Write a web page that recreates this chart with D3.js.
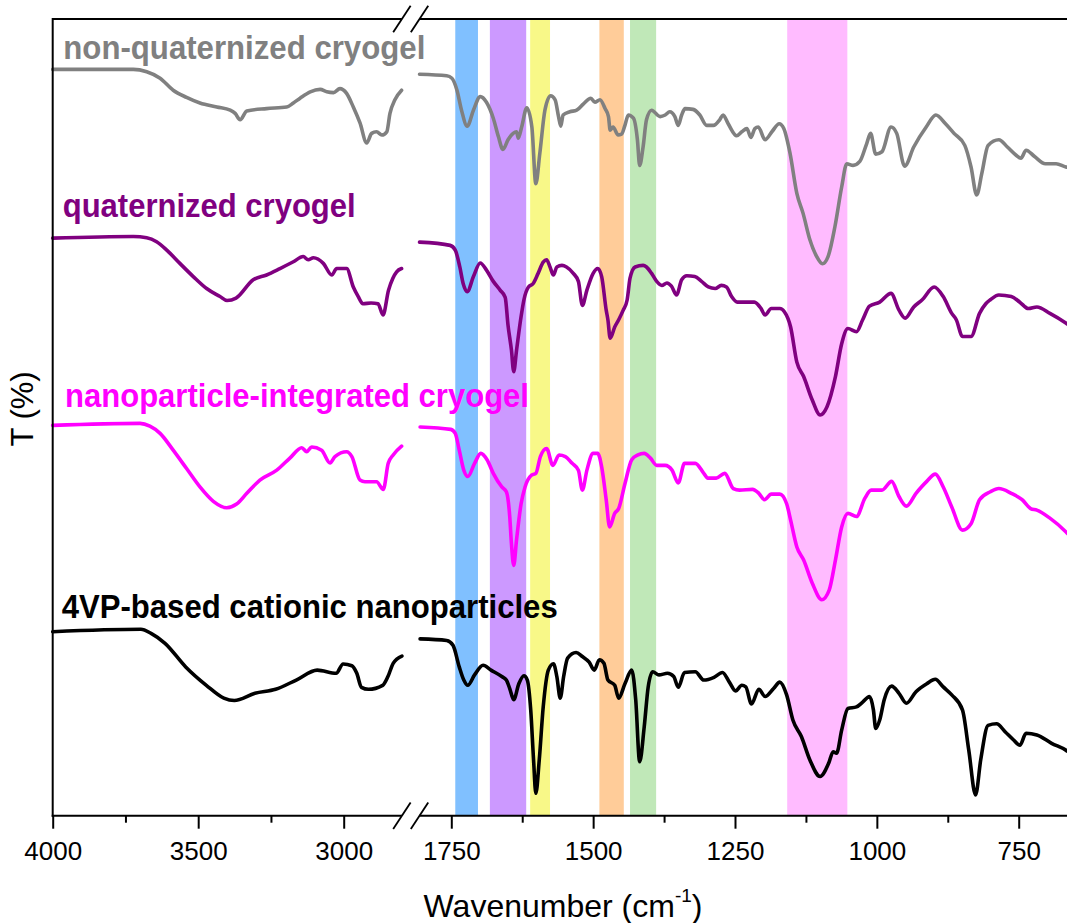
<!DOCTYPE html>
<html>
<head>
<meta charset="utf-8">
<script src="https://cdnjs.cloudflare.com/ajax/libs/d3/7.8.5/d3.min.js"></script>
<style>
  html, body { margin: 0; padding: 0; background: #fff; }
  svg { display: block; }
  text { font-family: "Liberation Sans", Arial, sans-serif; }
</style>
</head>
<body>
<svg id="chart" width="1067" height="923"></svg>
<script>
// FTIR spectra, stacked; each series split into a high (4000-2800) and low (1800-650) wavenumber window.

// --- series values: [wavenumber (cm-1), T (%)] ---
const nonQuaternizedHigh = [
  [4000,93.3],[3723,93.3],[3677,93.0],[3631,92.2],[3586,90.7],[3540,89.8],[3494,89.1],[3436,88.6],
  [3390,88.2],[3373,87.8],[3356,87.0],[3333,88.1],[3265,88.4],[3196,88.6],[3173,89.1],[3150,89.7],
  [3115,90.5],[3081,90.8],[3058,90.5],[3035,90.4],[3013,90.9],[2990,90.3],[2967,88.6],[2944,86.6],
  [2921,84.1],[2904,85.3],[2887,85.5],[2869,85.1],[2852,85.5],[2841,87.8],[2824,89.5],[2801,90.7]
];
const nonQuaternizedLow = [
  [1806,92.7],[1758,92.5],[1749,92.2],[1740,90.7],[1732,88.2],[1722,86.2],[1711,88.2],[1699,89.9],
  [1688,89.2],[1676,87.2],[1667,84.9],[1659,83.3],[1650,84.5],[1641,85.3],[1635,85.5],[1632,84.7],
  [1626,86.1],[1617,88.5],[1608,86.1],[1601,79.0],[1594,82.8],[1585,88.2],[1575,90.0],[1567,89.5],
  [1561,87.4],[1557,86.2],[1553,87.6],[1541,88.0],[1529,88.2],[1517,89.0],[1504,89.7],[1497,89.2],
  [1488,89.5],[1479,88.4],[1473,87.4],[1470,85.7],[1465,86.1],[1456,85.1],[1450,85.2],[1444,86.3],
  [1438,87.6],[1429,87.2],[1422,84.5],[1418,81.3],[1412,83.6],[1406,87.0],[1397,88.2],[1382,87.4],
  [1373,87.6],[1365,88.0],[1356,87.4],[1350,86.3],[1344,87.6],[1338,88.4],[1324,88.3],[1312,87.6],
  [1300,86.3],[1288,86.3],[1277,87.0],[1271,87.6],[1262,86.5],[1247,85.0],[1238,85.5],[1229,85.9],
  [1222,84.8],[1215,85.9],[1209,86.1],[1197,84.5],[1185,85.5],[1172,86.5],[1164,85.9],[1153,82.8],
  [1141,77.8],[1130,75.3],[1118,72.0],[1106,69.9],[1096,69.0],[1086,69.9],[1074,73.6],[1062,78.6],
  [1053,81.5],[1042,81.3],[1030,81.8],[1018,84.0],[1011,85.3],[1002,82.7],[991,83.0],[975,86.1],
  [965,85.3],[951,81.2],[935,83.6],[913,86.1],[896,87.6],[879,86.5],[864,85.3],[845,83.8],
  [834,81.1],[824,77.6],[815,80.3],[804,83.8],[785,84.5],[770,83.6],[755,82.6],[746,82.2],
  [737,83.2],[722,82.4],[703,81.5],[684,81.5],[667,81.1],[655,81.0]
];

const quaternizedHigh = [
  [4000,72.2],[3723,72.4],[3677,72.25],[3643,71.75],[3608,70.7],[3563,69.05],[3517,67.4],[3471,65.9],
  [3425,64.9],[3401,64.4],[3370,64.7],[3311,67.0],[3265,67.6],[3219,68.4],[3173,69.25],[3139,69.9],
  [3122,69.5],[3104,69.75],[3070,69.05],[3041,67.6],[3024,68.4],[2990,68.4],[2967,66.1],[2950,64.9],
  [2934,64.0],[2906,64.1],[2882,64.0],[2865,62.6],[2846,65.7],[2831,67.2],[2818,68.0],[2801,68.4]
];
const quaternizedLow = [
  [1806,71.7],[1752,71.3],[1743,70.7],[1735,68.6],[1729,66.5],[1722,65.5],[1711,67.4],[1699,69.1],
  [1688,68.2],[1676,66.8],[1664,65.7],[1655,64.8],[1650,61.3],[1644,58.2],[1640,55.5],[1635,58.2],
  [1627,62.4],[1622,64.5],[1614,66.1],[1606,66.5],[1597,67.8],[1588,69.2],[1582,69.5],[1576,68.6],
  [1570,67.6],[1564,68.6],[1555,68.8],[1547,68.6],[1535,67.8],[1526,66.8],[1519,63.8],[1511,65.7],
  [1500,67.8],[1492,68.4],[1485,67.4],[1477,63.2],[1474,62.0],[1470,59.7],[1462,61.1],[1455,62.0],
  [1447,63.2],[1440,64.5],[1435,67.2],[1426,68.6],[1412,68.8],[1406,68.6],[1397,67.8],[1388,66.8],
  [1379,66.3],[1370,66.6],[1362,66.2],[1353,65.1],[1344,67.0],[1335,67.5],[1321,67.4],[1309,66.8],
  [1297,66.1],[1285,65.9],[1274,66.3],[1265,66.1],[1256,64.9],[1246,64.2],[1227,64.2],[1216,64.2],
  [1204,63.4],[1197,62.6],[1186,63.4],[1171,63.4],[1163,63.0],[1152,61.1],[1141,56.7],[1129,54.9],
  [1114,52.0],[1100,50.1],[1088,51.1],[1073,54.9],[1062,59.0],[1051,60.9],[1036,60.5],[1025,62.0],
  [1013,63.7],[995,64.2],[975,65.3],[961,63.2],[950,62.2],[935,63.6],[920,64.5],[899,66.1],
  [883,64.9],[868,62.8],[860,62.0],[849,59.9],[834,59.9],[819,62.8],[808,64.0],[800,64.5],
  [785,65.1],[763,64.9],[748,64.2],[733,63.4],[718,63.6],[695,62.8],[667,61.6],[655,61.0]
];

const integratedHigh = [
  [4000,48.8],[3700,49.05],[3666,48.7],[3631,47.8],[3586,45.7],[3540,43.4],[3494,41.1],[3448,39.3],
  [3402,38.5],[3368,38.96],[3333,40.3],[3288,41.96],[3230,43.2],[3185,44.7],[3144,46.0],[3127,45.5],
  [3110,46.1],[3076,45.7],[3047,44.1],[3030,44.9],[2990,45.5],[2972,44.9],[2944,41.96],[2927,41.75],
  [2887,41.75],[2864,40.8],[2847,44.05],[2830,45.1],[2801,46.2]
];
const integratedLow = [
  [1805,48.6],[1751,48.3],[1743,47.8],[1736,45.7],[1728,43.2],[1721,42.4],[1709,44.05],[1698,45.3],
  [1687,44.5],[1676,42.8],[1661,41.1],[1653,40.5],[1647,37.4],[1644,34.0],[1640,31.3],[1635,34.5],
  [1627,39.0],[1620,41.1],[1608,42.6],[1601,42.8],[1593,44.9],[1582,45.9],[1571,43.8],[1560,45.1],
  [1549,44.9],[1537,44.05],[1526,43.2],[1519,40.7],[1511,43.2],[1500,45.3],[1492,45.3],[1485,43.6],
  [1477,39.5],[1471,36.1],[1462,37.8],[1455,38.4],[1444,41.5],[1432,44.5],[1421,45.1],[1410,45.3],
  [1399,44.7],[1388,43.8],[1373,43.8],[1361,43.2],[1350,41.6],[1339,44.05],[1320,44.05],[1305,42.8],
  [1298,42.2],[1283,42.2],[1268,42.8],[1253,40.9],[1242,40.7],[1219,40.8],[1208,40.3],[1198,39.5],
  [1186,40.2],[1171,40.2],[1159,39.0],[1152,36.96],[1141,33.6],[1129,31.96],[1114,29.1],[1097,27.0],
  [1084,28.2],[1073,31.96],[1062,36.1],[1051,37.8],[1036,37.4],[1021,39.7],[1010,40.7],[991,40.7],
  [974,41.8],[961,39.9],[948,38.7],[931,40.3],[912,41.8],[897,42.7],[883,41.1],[868,38.6],
  [849,35.7],[834,36.5],[819,39.5],[800,40.5],[785,40.9],[763,40.3],[744,39.5],[729,38.4],
  [718,38.2],[695,37.2],[667,35.5],[655,34.6]
];

const nanoparticleHigh = [
  [4000,23.0],[3697,23.3],[3662,22.8],[3614,21.55],[3543,18.6],[3472,16.3],[3412,14.7],[3376,14.4],
  [3305,15.3],[3234,15.8],[3163,16.96],[3091,18.2],[3026,17.8],[3002,18.96],[2972,18.75],[2955,17.8],
  [2939,16.05],[2915,15.8],[2866,16.3],[2848,17.4],[2830,19.05],[2800,19.96]
];
const nanoparticleLow = [
  [1805,22.1],[1758,21.9],[1747,21.3],[1736,18.6],[1728,16.96],[1721,16.3],[1709,17.6],[1694,18.8],
  [1680,18.2],[1661,17.4],[1653,16.96],[1647,15.9],[1640,14.5],[1631,16.5],[1622,17.5],[1616,16.96],
  [1610,13.2],[1605,6.96],[1601,2.8],[1595,6.96],[1588,13.6],[1579,18.2],[1570,19.0],[1564,17.4],
  [1558,14.7],[1552,17.4],[1545,19.7],[1530,20.4],[1519,19.9],[1507,19.2],[1498,18.2],[1489,19.5],
  [1481,19.05],[1474,16.96],[1462,16.3],[1455,14.7],[1444,16.5],[1432,18.2],[1425,14.5],[1418,6.75],
  [1410,11.1],[1403,16.1],[1395,18.0],[1384,17.6],[1369,17.8],[1358,17.4],[1350,16.05],[1339,17.9],
  [1320,18.0],[1305,16.96],[1287,17.3],[1272,17.9],[1260,16.7],[1249,15.6],[1238,16.3],[1231,16.1],
  [1221,13.96],[1208,15.8],[1197,14.9],[1182,15.9],[1171,16.7],[1159,15.1],[1148,11.96],[1133,9.9],
  [1118,6.96],[1100,4.9],[1085,6.55],[1077,8.0],[1071,7.8],[1062,10.7],[1051,13.4],[1036,13.6],
  [1025,14.2],[1013,14.9],[1006,13.2],[1002,10.9],[995,11.96],[987,14.5],[974,16.2],[961,15.3],
  [948,14.05],[931,15.5],[912,16.5],[897,17.05],[883,16.1],[868,15.1],[849,13.2],[838,8.2],
  [826,2.6],[817,6.96],[804,11.3],[789,11.5],[774,10.5],[759,9.46],[748,8.8],[737,10.3],
  [718,10.1],[692,9.05],[667,8.2],[655,7.6]
];

// --- series names and colours ---
const seriesNames  = ["non-quaternized cryogel", "quaternized cryogel", "nanoparticle-integrated cryogel", "4VP-based cationic nanoparticles"];
const seriesColors = ["#808080", "#800080", "#ff00ff", "#000000"];
const seriesHigh   = [nonQuaternizedHigh, quaternizedHigh, integratedHigh, nanoparticleHigh];
const seriesLow    = [nonQuaternizedLow, quaternizedLow, integratedLow, nanoparticleLow];

// --- highlighted absorption bands: [from, to] in cm-1 ---
const bandRanges = [[1743,1703],[1682,1618],[1611,1576],[1489,1446],[1435,1389],[1158,1052]];
const bandColors = ["#80c0ff", "#cc99ff", "#f8f888", "#ffcc99", "#c0e8b8", "#ffbbff"];

// --- axis ticks ---
const highMajorTicks = [4000, 3500, 3000];
const highMinorTicks = [3750, 3250];
const lowMajorTicks  = [1750, 1500, 1250, 1000, 750];
const lowMinorTicks  = [1625, 1375, 1125, 875];

// --- scales ---
const xHigh = d3.scaleLinear().domain([4000, 2800]).range([52.7, 401.9]);
const xLow  = d3.scaleLinear().domain([1750, 750]).range([451.3, 1018.7]);
const y     = d3.scaleLinear().domain([0, 99.6]).range([815.7, 19.0]);
const lowStart = 1806, lowEnd = 640;

const svg = d3.select("#chart");
svg.append("rect").attr("width", 1067).attr("height", 923).attr("fill", "#fff");

const plotTop = y(99.6), plotBottom = y(0), plotLeft = xHigh(4000);

// bands
svg.append("g").selectAll("rect").data(bandRanges).join("rect")
  .attr("x", d => xLow(d[0]))
  .attr("width", d => xLow(d[1]) - xLow(d[0]))
  .attr("y", plotTop)
  .attr("height", plotBottom - plotTop)
  .attr("fill", (d, i) => bandColors[i]);

// spectra
const lineHigh = d3.line().x(d => xHigh(d[0])).y(d => y(d[1])).curve(d3.curveMonotoneX);
const lineLow  = d3.line().x(d => xLow(d[0])).y(d => y(d[1])).curve(d3.curveMonotoneX);
const curves = svg.append("g").attr("fill", "none").attr("stroke-width", 3.6)
  .attr("stroke-linejoin", "round").attr("stroke-linecap", "round");
seriesNames.forEach((name, i) => {
  curves.append("path").attr("d", lineHigh(seriesHigh[i])).attr("stroke", seriesColors[i]);
  curves.append("path").attr("d", lineLow(seriesLow[i])).attr("stroke", seriesColors[i]);
});

// frame: left axis and top border, split at the break
const frame = svg.append("g").attr("stroke", "#000").attr("stroke-width", 2).attr("fill", "none");
frame.append("line").attr("x1", plotLeft).attr("x2", plotLeft).attr("y1", plotTop - 1).attr("y2", plotBottom + 1);
frame.append("line").attr("x1", plotLeft).attr("x2", xHigh(2800)).attr("y1", plotTop).attr("y2", plotTop);
frame.append("line").attr("x1", xLow(lowStart)).attr("x2", xLow(lowEnd)).attr("y1", plotTop).attr("y2", plotTop);

// bottom axes
function bottomAxis(scale, majors, minors) {
  const g = svg.append("g").attr("transform", `translate(0,${plotBottom})`);
  g.call(d3.axisBottom(scale).tickValues(majors).tickSize(13).tickSizeOuter(0).tickPadding(13).tickFormat(d3.format("d")));
  g.select(".domain").remove();
  g.selectAll(".tick line").attr("stroke-width", 2);
  g.selectAll(".tick text").attr("font-size", 26).attr("fill", "#000")
    .attr("font-family", '"Liberation Sans", Arial, sans-serif');
  const m = svg.append("g").attr("transform", `translate(0,${plotBottom})`);
  m.call(d3.axisBottom(scale).tickValues(minors).tickSize(7).tickSizeOuter(0).tickFormat(""));
  m.select(".domain").remove();
  m.selectAll(".tick line").attr("stroke-width", 2);
}
bottomAxis(xHigh, highMajorTicks, highMinorTicks);
bottomAxis(xLow, lowMajorTicks, lowMinorTicks);
frame.append("line").attr("x1", plotLeft - 1).attr("x2", xHigh(2800)).attr("y1", plotBottom).attr("y2", plotBottom);
frame.append("line").attr("x1", xLow(lowStart)).attr("x2", xLow(lowEnd)).attr("y1", plotBottom).attr("y2", plotBottom);

// axis-break marks
const breakXs = [xHigh(2800), xLow(lowStart)];
[plotTop, plotBottom].forEach(yy => {
  breakXs.forEach(bx => {
    frame.append("line")
      .attr("x1", bx - 8.7).attr("y1", yy + 13.3)
      .attr("x2", bx + 8.7).attr("y2", yy - 13.3)
      .attr("stroke-width", 1.8);
  });
});

// axis titles
const xTitle = svg.append("text").attr("x", 563).attr("y", 917).attr("text-anchor", "middle")
  .attr("font-size", 32).attr("fill", "#000");
xTitle.append("tspan").text("Wavenumber (cm");
xTitle.append("tspan").attr("font-size", 19).attr("dy", -15).text("-1");
xTitle.append("tspan").attr("dy", 15).text(")");

svg.append("text").attr("transform", "translate(33.3,409) rotate(-90)")
  .attr("text-anchor", "middle").attr("font-size", 31).attr("fill", "#000").text("T (%)");

// series labels (slightly condensed bold type)
const labelPos   = [[63.3, 59.3], [62.7, 216.7], [65, 406.7], [61.7, 617.5]];
const labelWidth = [362, 293, 464, 496];
seriesNames.forEach((name, i) => {
  svg.append("text")
    .attr("x", labelPos[i][0]).attr("y", labelPos[i][1])
    .attr("font-size", 34).attr("font-weight", "bold")
    .attr("textLength", labelWidth[i]).attr("lengthAdjust", "spacingAndGlyphs")
    .attr("fill", seriesColors[i]).text(name);
});
</script>
</body>
</html>
